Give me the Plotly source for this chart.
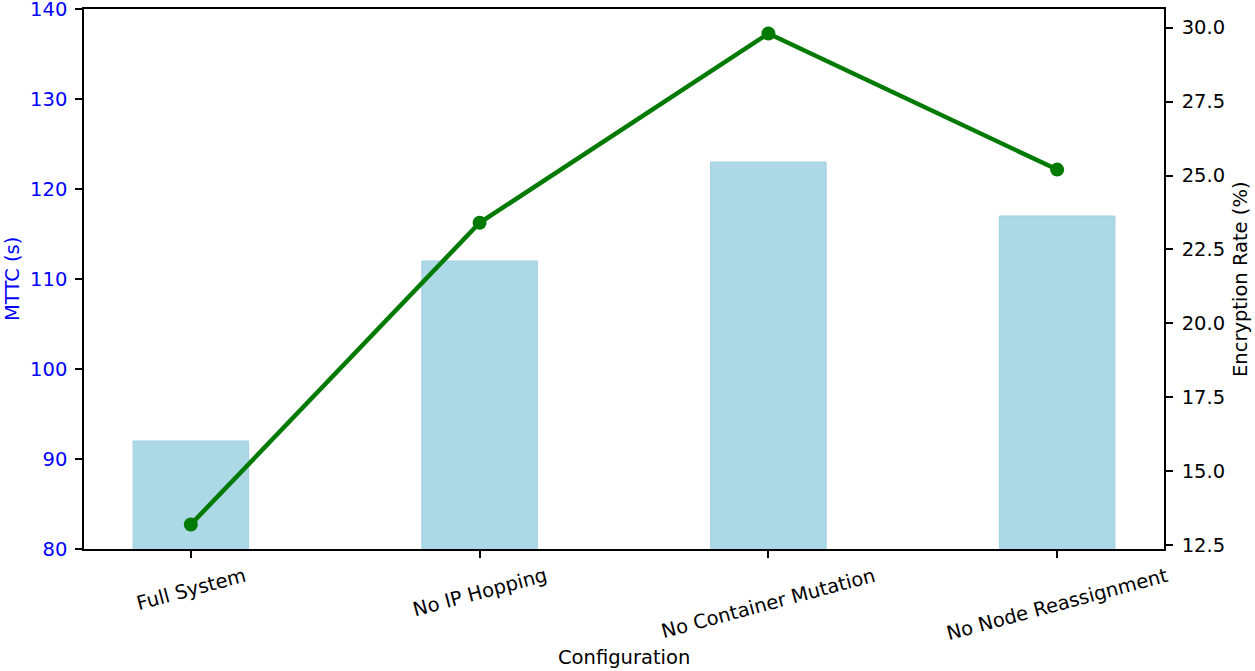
import plotly.graph_objects as go

configs = ["Full System", "No IP Hopping", "No Container Mutation", "No Node Reassignment"]
mttc = [92, 112, 123, 117]
enc_rate = [13.2, 23.4, 29.8, 25.2]
left_ticks = [80, 90, 100, 110, 120, 130, 140]
right_ticks = [12.5, 15.0, 17.5, 20.0, 22.5, 25.0, 27.5, 30.0]

FONT = "DejaVu Sans"
FS = 19.5

lo, hi = min(enc_rate), max(enc_rate)
pad = 0.05 * (hi - lo)
n = len(configs)
xpad = 0.05 * (n - 1 + 0.4)

fig = go.Figure()
fig.add_trace(go.Bar(
    x=list(range(n)), y=mttc, width=0.4,
    marker=dict(color="#ADD8E6", line=dict(color="#9fd0e2", width=1)),
    yaxis="y", showlegend=False,
))
fig.add_trace(go.Scatter(
    x=list(range(n)), y=enc_rate, mode="lines+markers",
    line=dict(color="#007a00", width=4.5),
    marker=dict(color="#007a00", size=14),
    yaxis="y2", showlegend=False,
))

for i, c in enumerate(configs):
    fig.add_annotation(
        x=i, xref="x", y=0, yref="paper", yanchor="top", xanchor="center",
        yshift=-12, text=c, textangle=-15, showarrow=False,
        font=dict(family=FONT, size=FS, color="black"),
    )

fig.add_annotation(x=0.5, xref="paper", y=0, yref="paper", yshift=-108,
                   yanchor="middle", xanchor="center", text="Configuration",
                   showarrow=False, font=dict(family=FONT, size=FS, color="black"))
fig.add_annotation(x=0, xref="paper", y=0.5, yref="paper", xshift=-72,
                   xanchor="center", yanchor="middle", text="MTTC (s)", textangle=-90,
                   showarrow=False, font=dict(family=FONT, size=FS, color="blue"))
fig.add_annotation(x=1, xref="paper", y=0.5, yref="paper", xshift=76,
                   xanchor="center", yanchor="middle", text="Encryption Rate (%)", textangle=-90,
                   showarrow=False, font=dict(family=FONT, size=FS, color="black"))

fig.update_layout(
    width=1255, height=671,
    margin=dict(l=84, r=91, t=9, b=122),
    plot_bgcolor="white", paper_bgcolor="white",
    font=dict(family=FONT, size=FS, color="black"),
    xaxis=dict(
        range=[-0.2 - xpad, n - 1 + 0.2 + xpad],
        tickvals=list(range(n)), showticklabels=False,
        ticks="outside", ticklen=7, tickwidth=1.5, tickcolor="black",
        showline=True, linecolor="black", linewidth=1.5, mirror=True,
        showgrid=False, zeroline=False, automargin=False,
    ),
    yaxis=dict(
        range=[80, 140], tickvals=left_ticks,
        ticks="outside", ticklen=7, tickwidth=1.5, tickcolor="black",
        tickfont=dict(color="blue", size=FS, family=FONT),
        showline=True, linecolor="black", linewidth=1.5,
        showgrid=False, zeroline=False, ticklabelstandoff=4, automargin=False,
        ticklabeloverflow="allow",
    ),
    yaxis2=dict(
        overlaying="y", side="right",
        range=[lo - pad, hi + pad], tickvals=right_ticks, tickformat=".1f",
        ticks="outside", ticklen=7, tickwidth=1.5, tickcolor="black",
        tickfont=dict(color="black", size=FS, family=FONT),
        showline=True, linecolor="black", linewidth=1.5,
        showgrid=False, zeroline=False, ticklabelstandoff=5, automargin=False,
        ticklabeloverflow="allow",
    ),
)

fig.write_html("out.html", config={"displayModeBar": False},
               post_script="document.body.style.margin='0';")
